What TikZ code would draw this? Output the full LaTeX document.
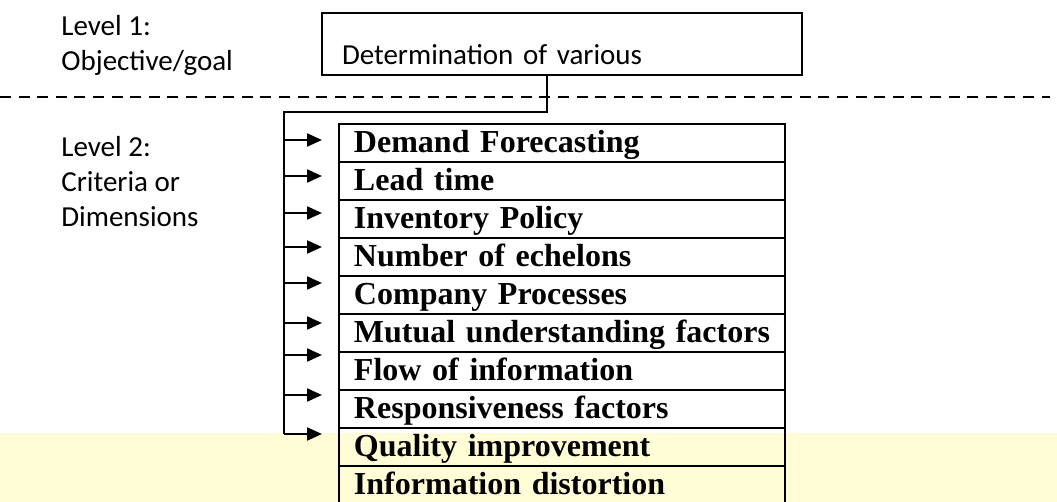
\documentclass[tikz,border=0pt]{standalone}
\usepackage{fontspec}
\setmainfont{Liberation Serif}
\newfontfamily\calibrifont{Carlito}
\usetikzlibrary{arrows.meta,positioning}

\definecolor{paleyellow}{RGB}{255,253,214}

\tikzset{
    levellabel/.style={font=\calibrifont\fontsize{14.5}{17.5}\selectfont, align=left, anchor=base west, inner sep=0pt},
    goalbox/.style={draw, line width=0.8pt, anchor=north west, outer sep=0pt, inner xsep=10pt, inner ysep=0pt,
        text width=220pt, text height=26pt, text depth=5pt, align=left, font=\calibrifont\fontsize{14.5}{17.5}\selectfont},
    critbox/.style={draw, line width=1.3pt, anchor=north west, outer sep=0pt, inner xsep=2pt, inner ysep=0pt,
        text width=219pt, text height=14.5pt, text depth=4.5pt, align=left,
        execute at begin node=\hspace*{5.5pt}, font=\bfseries\fontsize{16}{19}\selectfont},
    link/.style={line width=1.1pt},
    feed/.style={line width=1.1pt, -{Triangle[length=7.5pt,width=6.5pt]}},
    levelsep/.style={line width=1.4pt, dash pattern=on 5.5pt off 3.8pt}
}

\begin{document}
\begin{tikzpicture}[x=0.5pt, y=-0.5pt]
    \useasboundingbox (0,0) rectangle (1057,502);
    % shaded strip at the foot of the page
    \fill[paleyellow] (0,433) rectangle (1057,502);

    % level 1 (base anchor sits on the last line)
    \node[levellabel] (lvlone) at (61,71) {Level 1:\\Objective/goal};
    \node[goalbox] (goal) at (322,13) {Determination of various};
    \draw[levelsep] (0,97) -- (1050,97);

    % level 2
    \node[levellabel] (lvltwo) at (61,227) {Level 2:\\Criteria or\\Dimensions};
    \node[critbox] (demand) at (339,124) {Demand Forecasting};
    \node[critbox, below=0pt of demand] (lead) {Lead time};
    \node[critbox, below=0pt of lead] (inventory) {Inventory Policy};
    \node[critbox, below=0pt of inventory] (echelons) {Number of echelons};
    \node[critbox, below=0pt of echelons] (processes) {Company Processes};
    \node[critbox, below=0pt of processes] (mutual) {Mutual understanding factors};
    \node[critbox, below=0pt of mutual] (flow) {Flow of information};
    \node[critbox, below=0pt of flow] (responsive) {Responsiveness factors};
    \node[critbox, below=0pt of responsive] (quality) {Quality improvement};
    \node[critbox, below=0pt of quality] (distortion) {Information distortion};

    % trunk from the goal down the left side
    \coordinate (bend) at (284,112);
    \coordinate (foot) at (284,434);
    \draw[link] ([xshift=-7.5pt]goal.south) |- (bend) -- (foot);
    \foreach \crit/\dy in {demand/1.5, lead/2.5, inventory/3, echelons/5, processes/6,
                            mutual/5, flow/8, responsive/7, quality/6.5}
        \draw[feed] ([xshift=-27.5pt, yshift=\dy pt]\crit.west) -- ([xshift=-8.5pt, yshift=\dy pt]\crit.west);
\end{tikzpicture}
\end{document}
